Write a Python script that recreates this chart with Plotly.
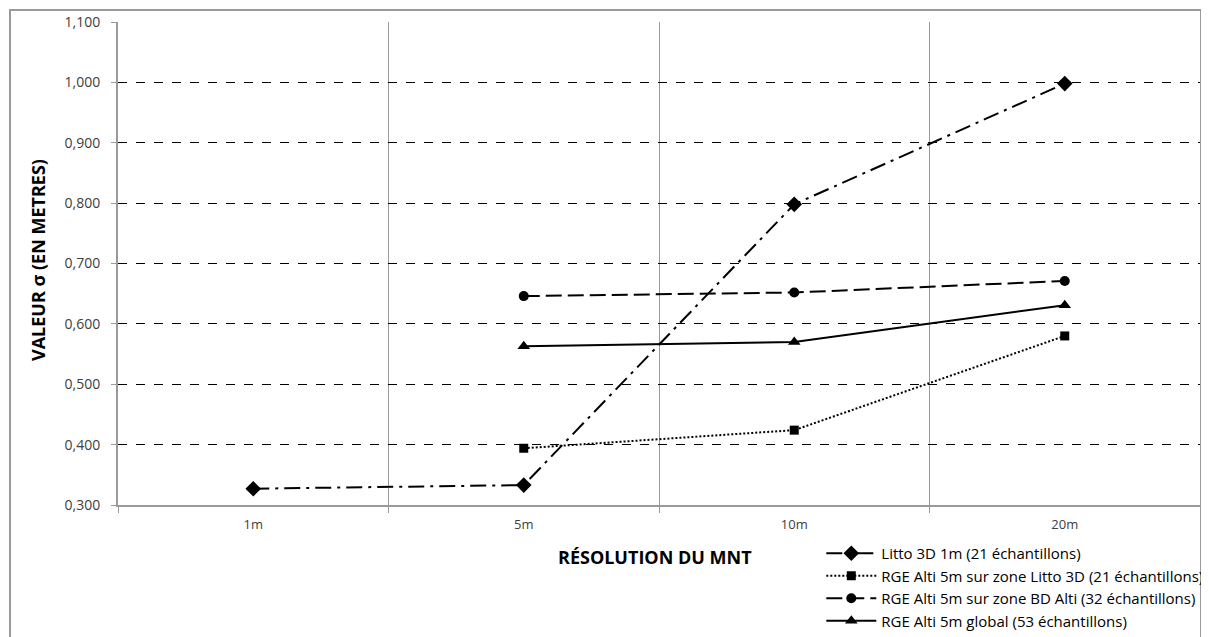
import plotly.graph_objects as go

categories = ["1m", "5m", "10m", "20m"]
litto_3d_1m = [0.327, 0.333, 0.798, 0.998]
rge_zone_litto = [None, 0.394, 0.424, 0.580]
rge_zone_bd = [None, 0.646, 0.652, 0.671]
rge_global = [None, 0.563, 0.570, 0.631]

names = [
    "Litto 3D 1m (21 échantillons)",
    "RGE Alti 5m sur zone Litto 3D (21 échantillons)",
    "RGE Alti 5m sur zone BD Alti (32 échantillons)",
    "RGE Alti 5m global (53 échantillons)",
]

fig = go.Figure()
series = [
    (litto_3d_1m, names[0], "16px,6px,3px,6px", "diamond", 12),
    (rge_zone_litto, names[1], "2px,2px", "square", 9),
    (rge_zone_bd, names[2], "16px,6px", "circle", 10),
    (rge_global, names[3], "solid", "triangle-up", 11),
]
for vals, name, dash, sym, size in series:
    fig.add_trace(go.Scatter(
        x=categories, y=vals, name=name, mode="lines+markers",
        line=dict(color="black", width=2, dash=dash),
        marker=dict(symbol=sym, size=size, color="black"),
        connectgaps=False,
    ))

# Page body has an 8px offset, so the figure is sized to compensate
fig.update_layout(
    width=1201, height=629,
    margin=dict(l=110, r=9, t=14, b=132, autoexpand=False),
    paper_bgcolor="white", plot_bgcolor="white",
    separators=", ",
    font=dict(family="Open Sans, sans-serif", color="#404040"),
    showlegend=True,
    legend=dict(
        x=0.650, y=-0.0663, xanchor="left", yanchor="top",
        font=dict(size=15, color="black", family="Open Sans, sans-serif"),
        bgcolor="rgba(0,0,0,0)", tracegroupgap=0, itemwidth=50,
    ),
    xaxis=dict(
        type="category", range=[-0.5, 3.5], tickson="boundaries",
        showgrid=True, gridcolor="#9a9a9a", gridwidth=1,
        showline=True, linecolor="#9a9a9a", linewidth=2,
        ticks="outside", ticklen=6, tickcolor="#9a9a9a",
        tickfont=dict(size=13, color="#404040"),
        ticklabelstandoff=6, automargin=False,
        zeroline=False,
    ),
    yaxis=dict(
        range=[0.3, 1.1], dtick=0.1, tick0=0.3, tickformat=".3f",
        showgrid=True, gridcolor="black", gridwidth=1, griddash="dash",
        showline=True, linecolor="#9a9a9a", linewidth=2,
        ticks="outside", ticklen=5, tickcolor="#9a9a9a",
        tickfont=dict(size=14, color="#404040"),
        ticklabelstandoff=8, automargin=False,
        zeroline=False,
    ),
    annotations=[
        dict(text="<b>VALEUR σ (EN METRES)</b>", xref="paper", yref="paper",
             x=(38 - 118) / 1082, y=(505 - 260) / 483, textangle=-90,
             showarrow=False, font=dict(size=18, color="black", family="Open Sans, sans-serif"),
             xanchor="center", yanchor="middle"),
        dict(text="<b>RÉSOLUTION DU MNT</b>", xref="paper", yref="paper",
             x=(655 - 118) / 1082, y=(505 - 557) / 483,
             showarrow=False, font=dict(size=18, color="black", family="Open Sans, sans-serif"),
             xanchor="center", yanchor="middle"),
    ],
    shapes=[
        dict(type="rect", xref="paper", yref="paper",
             x0=(10 - 118) / 1082, x1=(1201 - 118) / 1082,
             y0=(505 - 700) / 483, y1=(505 - 10) / 483,
             line=dict(color="#9a9a9a", width=2), layer="below"),
    ],
)

fig.write_html("out.html")
